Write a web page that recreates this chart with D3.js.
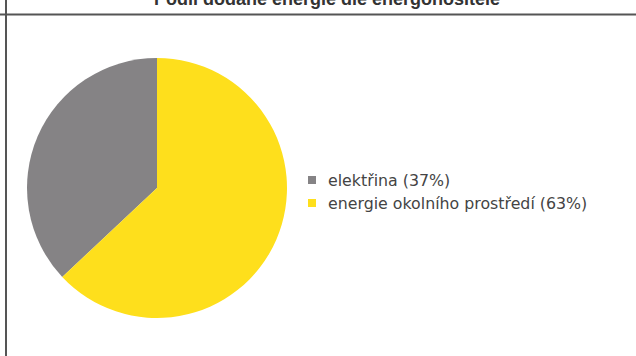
<!DOCTYPE html>
<html>
<head>
<meta charset="utf-8">
<script src="https://cdn.jsdelivr.net/npm/d3@7"></script>
<style>
  body { margin: 0; background: #fff; }
  svg { display: block; }
</style>
</head>
<body>
<svg></svg>
<script>
// Chart data
const categories = ['elektřina', 'energie okolního prostředí']
const shares = [37, 63]
const colors = ['#858385', '#fedf1c']
const title = 'Podíl dodané energie dle energonositele'

const width = 636
const height = 356

const svg = d3.select('svg')
    .attr('width', width)
    .attr('height', height)

// frame lines (page is cropped from a bigger table)
svg.append('line')
    .attr('x1', 0).attr('x2', width)
    .attr('y1', 14.5).attr('y2', 14.5)
    .attr('stroke', '#555').attr('stroke-width', 2)
svg.append('line')
    .attr('x1', 6).attr('x2', 6)
    .attr('y1', 0).attr('y2', height)
    .attr('stroke', '#555').attr('stroke-width', 2)

// title, cut at the top edge
svg.append('text')
    .attr('x', 327)
    .attr('y', 5)
    .attr('text-anchor', 'middle')
    .attr('font-family', 'Liberation Sans, Arial, sans-serif')
    .attr('font-weight', 'bold')
    .attr('font-size', 18)
    .attr('fill', '#333')
    .text(title)

// pie: gray counter-clockwise from 12 o'clock, yellow takes the rest
const cx = 157, cy = 188, r = 130

const pie = d3.pie()
    .sort(null)
    .value(d => d.value)
    .startAngle(2 * Math.PI)
    .endAngle(0)

const rows = categories.map((c, i) => ({ name: c, value: shares[i], color: colors[i] }))

const arc = d3.arc().innerRadius(0).outerRadius(r)

svg.append('g')
    .attr('transform', 'translate(' + cx + ',' + cy + ')')
    .selectAll('path')
    .data(pie(rows))
    .enter()
    .append('path')
    .attr('d', arc)
    .attr('fill', d => d.data.color)

// legend
const legend = svg.append('g')
    .attr('transform', 'translate(308, 180)')

const item = legend.selectAll('g')
    .data(rows)
    .enter()
    .append('g')
    .attr('transform', (d, i) => 'translate(0,' + (i * 23) + ')')

item.append('rect')
    .attr('x', 0).attr('y', -4)
    .attr('width', 8).attr('height', 8)
    .attr('fill', d => d.color)

item.append('text')
    .attr('x', 20)
    .attr('y', 0)
    .attr('dy', '0.35em')
    .attr('font-family', 'DejaVu Sans, Verdana, sans-serif')
    .attr('font-size', 15.8)
    .attr('fill', '#444')
    .text(d => d.name + ' (' + d.value + '%)')
</script>
</body>
</html>
